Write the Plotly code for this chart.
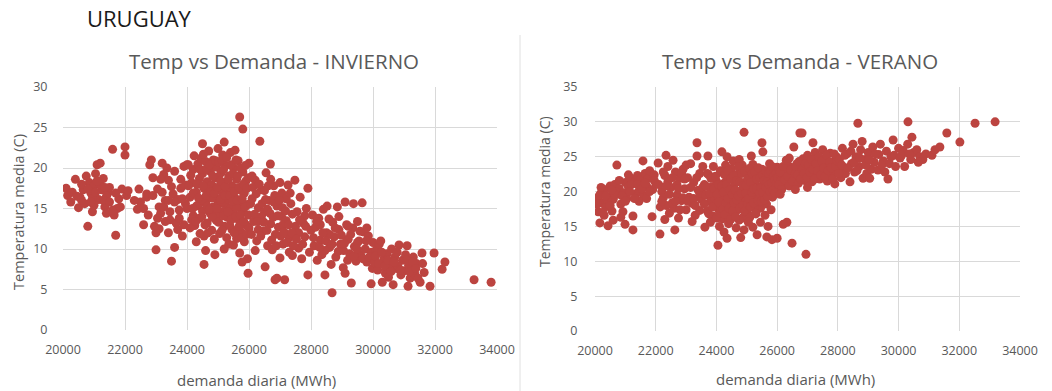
import plotly.graph_objects as go

# ---------------- DATA ----------------
invierno = [
    # 20000-22200
    (20100,17.5),(20150,16.6),(20250,15.8),(20400,18.6),(20500,15.1),(20550,16.4),(20650,17.3),(20700,15.6),(20800,12.8),(20850,18.2),
    (20900,16.9),(20950,14.6),(21000,17.8),(21050,19.3),(21100,20.4),(21150,16.1),(21200,20.6),(21250,17.3),(21300,18.7),(21350,15.2),
    (21400,14.4),(21450,16.9),(21500,17.6),(21600,22.3),(21650,14.2),(21700,11.7),(21750,15.0),(21800,16.2),(21900,17.4),(22000,22.6),
    (22000,21.6),(22050,16.6),(22100,17.2),(20600,16.0),(20750,19.0),(21000,15.4),(21200,18.0),(21400,16.5),(21600,14.8),(20950,16.2),
    (20300,17.0),(20450,16.5),(20600,18.0),(20800,17.4),(20900,15.8),(21050,17.0),(21100,18.4),(21300,16.0),(21350,17.6),(21500,15.8),
    (21700,16.9),(21850,15.2),
    # 22200-24000
    (22400,14.9),(22500,15.8),(22600,13.0),(22700,16.4),(22800,20.4),(22850,21.0),(22900,18.8),(23000,12.0),(23000,9.9),(23050,17.4),
    (23100,12.5),(23150,14.4),(23200,20.6),(23250,19.2),(23300,16.0),(23350,20.0),(23400,18.5),(23400,12.0),(23450,13.6),(23500,8.5),
    (23550,16.8),(23600,10.2),(23600,19.6),(23650,13.2),(23700,12.4),(23700,16.1),(23750,14.8),(23800,17.5),(23850,11.6),(23900,20.2),
    (23900,13.0),(23950,15.6),(24000,15.0),(22700,16.8),(23100,15.2),(23300,13.4),(23500,17.7),(23800,18.6),(24000,20.4),(23200,17.0),
    (22300,16.0),(22450,17.4),(22600,15.0),(22750,14.2),(22900,16.6),(23050,13.8),(23250,15.2),(23450,14.6),(23600,15.8),(23750,13.8),
    (23850,16.2),(23950,17.9),(23150,18.6),(23400,16.0),(22950,12.8),
    # 24000-26000
    (24100,16.4),(24150,18.2),(24200,14.1),(24200,19.8),(24250,12.9),(24300,17.0),(24300,15.3),(24350,20.5),(24400,13.8),(24400,18.7),
    (24450,16.1),(24450,21.2),(24500,14.7),(24500,19.3),(24550,11.6),(24550,17.5),(24600,15.8),(24600,20.8),(24650,13.2),(24650,18.3),
    (24700,16.7),(24700,22.1),(24750,14.4),(24750,19.6),(24800,12.3),(24800,17.9),(24850,15.2),(24850,21.0),(24900,16.4),(24900,18.8),
    (24950,13.5),(24950,20.1),(25000,15.9),(25000,22.4),(25050,11.9),(25050,17.3),(25100,14.6),(25100,19.4),(25150,16.8),(25150,21.6),
    (25200,12.8),(25200,18.1),(25250,15.4),(25250,20.3),(25300,13.9),(25300,17.0),(25350,10.6),(25350,19.0),(25400,15.0),(25400,21.9),
    (25450,12.4),(25450,17.8),(25500,14.2),(25500,20.0),(25550,16.3),(25550,22.2),(25600,11.3),(25600,18.6),(25650,13.7),(25650,20.9),
    (25700,15.6),(25700,9.5),(25750,17.2),(25750,12.1),(25800,19.5),(25800,14.8),(25850,10.9),(25850,16.9),(25900,13.0),(25900,18.4),
    (25950,8.8),(25950,15.5),(26000,20.6),(26000,12.6),(24300,10.9),(24600,9.8),(24900,9.3),(25200,10.0),(24400,15.6),(24700,17.3),
    (25000,18.9),(25300,16.2),(25600,15.1),(24200,16.9),(24500,16.0),(24800,16.3),(25100,15.7),(25400,17.1),(24650,15.3),(24950,14.1),
    (24500,23.0),(25200,23.2),(25700,26.3),(25800,24.8),(24550,8.1),(25970,7.0),(25780,8.4),(24040,20.4),(25500,10.5),(24150,13.6),
    (24050,17.8),(24100,12.6),(24120,19.1),(24180,15.0),(24230,21.5),(24280,13.4),(24320,18.0),(24370,16.3),(24420,11.9),(24430,19.8),
    (24480,14.0),(24520,17.8),(24530,21.7),(24580,13.0),(24620,16.6),(24630,19.9),(24680,12.0),(24720,14.9),(24730,20.4),(24780,17.0),
    (24820,13.9),(24830,19.0),(24880,11.2),(24880,16.9),(24920,20.9),(24970,15.0),(24980,17.6),(25020,13.3),(25030,20.7),(25080,16.1),
    (25080,18.4),(25130,12.3),(25130,21.0),(25180,14.1),(25180,19.8),(25230,16.6),(25230,17.7),(25280,11.4),(25280,21.3),(25320,14.6),
    (25330,18.6),(25380,12.9),(25380,16.6),(25420,20.4),(25430,13.6),(25480,15.9),(25480,19.3),(25520,12.0),(25530,17.1),(25580,14.0),
    (25580,21.0),(25620,16.0),(25630,19.0),(25680,12.8),(25680,17.6),(25720,14.2),(25730,20.0),(25780,11.4),(25780,16.2),(25820,18.0),
    (25830,13.4),(25880,15.2),(25880,20.3),(25920,11.8),(25930,17.5),(25980,14.2),(25980,18.8),
    # 26000-28000
    (26100,16.2),(26150,13.4),(26200,18.5),(26250,11.0),(26300,15.1),(26350,23.3),(26400,17.3),(26450,12.2),(26500,14.6),(26520,7.8),
    (26550,19.4),(26600,10.4),(26650,16.0),(26690,20.5),(26700,13.1),(26750,9.9),(26800,17.8),(26840,6.2),(26850,11.8),(26900,15.3),
    (26900,6.4),(26950,12.7),(27000,18.2),(27050,14.0),(27060,16.9),(27100,10.6),(27150,6.2),(27200,13.5),(27260,17.9),(27300,11.4),
    (27350,15.6),(27400,9.2),(27480,18.5),(27500,12.8),(27550,14.6),(27600,10.1),(27650,16.4),(27700,8.8),(27750,13.2),(27800,11.5),
    (27850,15.0),(27900,17.5),(27900,6.8),(27950,9.6),(28000,12.3),(26300,12.4),(26600,14.9),(26800,15.8),(27100,13.0),(27400,14.3),
    (26200,9.8),(26500,17.2),(26700,18.6),(27000,8.9),(27600,12.0),(26400,14.0),(27200,16.2),(27800,14.1),(26100,19.0),(27300,9.6),
    (26050,15.6),(26080,11.8),(26120,17.6),(26180,14.3),(26230,16.8),(26280,13.4),(26330,18.0),(26380,11.6),(26420,15.6),(26480,13.3),
    (26530,16.1),(26580,12.3),(26620,17.8),(26680,14.4),(26730,11.1),(26780,13.9),(26830,16.6),(26880,10.4),(26930,14.1),(26980,16.0),
    (27030,11.6),(27080,15.1),(27130,12.1),(27180,14.7),(27230,10.8),(27280,13.0),(27330,16.9),(27380,12.0),(27430,10.4),(27530,11.2),
    (27630,13.6),(27730,10.6),(27830,12.8),
    # 28000-30000
    (28050,14.2),(28100,10.4),(28150,12.7),(28200,8.6),(28250,13.8),(28300,11.1),(28350,9.3),(28450,6.8),(28400,14.9),(28500,12.0),
    (28520,15.3),(28600,10.2),(28650,8.1),(28680,4.6),(28700,13.3),(28750,11.5),(28800,9.0),(28850,15.2),(28900,12.4),(28950,10.6),
    (29040,7.7),(29100,7.0),(29100,15.8),(29150,13.0),(29200,11.2),(29250,9.4),(29300,5.8),(29350,12.6),(29370,15.6),(29400,10.3),
    (29450,8.5),(29500,13.4),(29550,11.0),(29600,9.3),(29650,15.7),(29700,12.1),(29750,10.0),(29800,8.4),(29850,11.6),(29940,5.7),
    (29950,9.6),(30000,10.8),(28300,13.0),(28600,11.8),(28900,14.0),(29200,12.8),(29500,10.8),(29800,12.6),(28450,9.8),(29050,9.8),
    (28080,11.4),(28180,13.4),(28280,10.2),(28380,12.0),(28480,11.0),(28580,13.7),(28680,10.6),(28780,12.6),(28880,9.7),(28980,11.7),
    (29080,10.7),(29180,8.6),(29280,11.8),(29380,9.1),(29480,10.0),(29580,12.2),(29680,8.8),(29780,11.0),(29880,9.0),(29980,7.6),
    # 30000-34000
    (30050,8.3),(30100,9.9),(30150,7.4),(30200,10.6),(30300,5.9),(30350,8.8),(30400,7.0),(30450,9.4),(30500,6.5),(30550,8.0),
    (30650,5.6),(30700,9.0),(30750,7.6),(30840,10.5),(30900,6.8),(30950,8.6),(31000,7.3),(31050,9.3),(31130,5.4),(31150,8.0),
    (31200,6.4),(31250,7.7),(31300,9.0),(31350,6.9),(31400,8.2),(31520,5.9),(31580,9.5),(31650,7.1),(31840,5.4),(31970,9.5),
    (32230,7.5),(32320,8.4),(33260,6.2),(33810,5.9),(30250,11.0),(30600,10.0),(31100,10.4),(30800,7.9),
    (30080,9.1),(30180,8.2),(30280,9.6),(30380,7.9),(30480,8.6),(30580,7.2),(30680,8.4),(30780,9.6),(30880,7.4),(31080,8.6),
    (31180,7.2),(31280,8.4),(31380,7.6),(31450,6.4),(31600,8.2),
]

verano = [
    # 20000-22000
    (20050,19.0),(20100,17.1),(20160,15.5),(20200,19.8),(20250,18.4),(20300,20.3),(20350,17.8),(20430,15.1),(20450,19.2),(20500,20.8),
    (20560,17.2),(20600,18.9),(20650,21.0),(20720,23.8),(20750,19.6),(20800,20.4),(20850,18.2),(20920,17.1),(20990,15.3),(21000,21.3),
    (21050,19.0),(21100,20.7),(21150,22.0),(21250,16.5),(21250,14.5),(21300,21.4),(21350,19.7),(21400,22.3),(21450,20.1),(21500,21.8),
    (21580,24.4),(21600,19.4),(21650,22.6),(21700,20.8),(21750,21.9),(21800,23.0),(21880,16.4),(21900,20.3),(21950,22.4),(22000,21.2),
    (20150,19.5),(20400,18.8),(20700,20.0),(20950,19.8),(21200,21.0),(21450,18.6),(21700,19.0),(20300,16.6),(20600,15.9),(20850,16.3),
    (20080,18.2),(20200,20.6),(20350,19.4),(20500,18.0),(20650,19.6),(20800,21.6),(20900,19.4),(21000,18.6),(21150,20.0),(21300,19.0),
    (21400,21.0),(21550,20.4),(21650,21.2),(21800,20.0),(21950,21.6),(20250,17.0),(20550,20.2),(21100,22.4),
    # 22000-23600
    (22080,24.1),(22140,13.9),(22150,17.8),(22200,20.0),(22250,19.1),(22300,22.3),(22340,25.2),(22350,18.0),(22400,21.4),(22450,16.9),
    (22500,20.6),(22570,24.5),(22600,17.6),(22630,14.5),(22650,22.8),(22700,19.5),(22750,16.2),(22800,21.9),(22850,18.7),(22900,23.2),
    (22950,20.4),(23000,17.4),(23050,22.0),(23100,19.2),(23150,24.0),(23200,18.3),(23250,21.3),(23300,16.6),(23360,27.0),(23360,25.1),
    (23400,20.2),(23450,22.6),(23500,18.9),(23550,23.6),(23620,14.9),(23600,21.0),(22400,23.6),(22700,21.0),(23000,23.8),(23200,15.7),
    (22300,16.0),(22900,19.1),(23450,17.3),(22550,18.4),
    (22100,21.0),(22200,18.6),(22350,20.8),(22450,19.6),(22550,22.0),(22650,18.6),(22750,20.4),(22850,22.6),(22950,21.8),(23050,18.6),
    (23150,20.6),(23250,19.0),(23350,22.0),(23450,19.8),(23550,20.6),(22250,22.8),(22800,17.4),(23300,18.0),
    # 23600-26000
    (23650,19.5),(23700,17.2),(23720,25.1),(23750,22.4),(23800,18.6),(23850,20.7),(23900,16.5),(23900,23.6),(23950,19.0),(24000,21.5),
    (24050,12.3),(24050,17.6),(24100,20.0),(24150,22.8),(24180,25.7),(24200,16.1),(24200,18.8),(24250,21.2),(24300,19.6),(24350,13.3),
    (24350,25.0),(24350,17.0),(24400,22.0),(24400,15.4),(24450,20.4),(24500,18.2),(24500,23.3),(24550,16.6),(24600,21.1),(24600,19.0),
    (24650,14.8),(24700,22.5),(24700,17.4),(24750,20.0),(24800,18.7),(24850,23.8),(24850,16.2),(24910,28.5),(24910,14.5),(24950,21.3),
    (25000,19.4),(25000,17.0),(25050,22.7),(25100,20.5),(25150,18.0),(25200,14.9),(25200,23.9),(25250,21.6),(25300,19.3),(25340,13.8),
    (25350,22.4),(25400,20.7),(25450,17.6),(25500,27.0),(25500,23.2),(25530,25.7),(25550,21.0),(25600,16.6),(25600,19.6),(25660,13.5),
    (25650,22.5),(25700,20.6),(25750,24.0),(25800,21.8),(25830,13.1),(25850,19.2),(25900,22.9),(25950,20.4),(26000,13.3),(26000,23.5),
    (24000,18.3),(24100,15.0),(24300,23.8),(24450,18.0),(24550,24.4),(24650,19.8),(24750,15.9),(24950,18.6),(25100,16.3),(25250,17.8),
    (25400,18.5),(25650,18.2),(25800,17.4),(23800,15.6),(24250,14.2),(24750,24.6),(25450,15.6),(24150,19.4),(24550,20.3),(24900,20.0),
    (25050,15.6),(25300,16.8),(25700,15.0),(25150,25.1),(24400,16.3),(24800,13.4),
    (23600,18.2),(23650,20.8),(23700,22.6),(23750,16.8),(23780,19.8),(23820,21.9),(23870,17.8),(23920,20.4),(23970,22.2),(24000,16.2),
    (24020,19.6),(24070,21.0),(24080,18.5),(24120,16.9),(24130,23.0),(24170,20.8),(24220,17.5),(24230,19.9),(24270,22.4),(24280,16.7),
    (24320,18.4),(24330,21.0),(24380,19.0),(24380,23.0),(24420,17.6),(24430,20.2),(24470,16.0),(24480,21.8),(24520,19.6),(24530,17.2),
    (24570,22.3),(24580,18.4),(24620,20.2),(24630,16.4),(24670,21.6),(24680,18.8),(24720,19.4),(24730,23.6),(24770,17.6),(24780,21.4),
    (24820,19.8),(24830,22.6),(24870,18.0),(24880,20.8),(24920,17.2),(24930,22.9),(24970,19.8),(24980,20.9),(25020,18.2),(25030,21.8),
    (25070,19.0),(25080,23.3),(25120,17.8),(25130,21.3),(25170,19.9),(25180,22.6),(25220,18.4),(25230,20.4),(25270,22.8),(25280,16.9),
    (25320,20.4),(25330,21.8),(25370,18.7),(25380,23.4),(25420,19.8),(25430,22.0),(25470,20.6),(25480,18.6),(25520,22.4),(25530,19.9),
    (25570,21.6),(25580,18.8),(25620,23.0),(25630,20.6),(25670,21.4),(25680,19.3),(25720,22.6),(25730,21.0),(25770,20.0),(25780,22.9),
    (25820,21.2),(25830,23.6),(25870,20.2),(25880,22.2),(25920,21.6),(25930,19.8),(25970,22.6),(25980,21.2),(26020,22.0),(26070,23.2),
    (26120,21.6),(26170,22.6),(26220,20.9),(26270,22.8),(26320,21.6),(26370,23.7),(26420,22.0),(26470,21.0),(26520,23.4),(26570,21.8),
    # 26000-28000
    (26050,21.0),(26100,22.8),(26150,20.3),(26200,23.6),(26250,21.7),(26320,15.6),(26300,24.5),(26350,22.2),(26400,20.8),(26450,23.1),
    (26490,12.6),(26500,21.5),(26550,26.4),(26600,22.6),(26650,24.0),(26700,21.2),(26750,28.4),(26750,23.3),(26800,22.0),(26820,28.4),
    (26850,24.7),(26900,21.6),(26950,11.0),(26950,23.4),(27000,25.2),(27050,22.3),(27100,24.1),(27180,27.0),(27150,21.4),(27200,23.0),
    (27250,25.6),(27300,22.5),(27350,24.4),(27400,21.8),(27450,23.6),(27500,26.0),(27550,22.9),(27600,24.8),(27650,21.5),(27700,23.8),
    (27750,25.5),(27800,22.4),(27850,24.2),(27900,21.1),(27950,25.0),(28000,23.0),(26200,15.3),(26100,19.6),(26400,24.8),(27000,20.6),
    (26600,20.3),
    (26620,23.6),(26670,22.4),(26720,24.3),(26780,21.8),(26830,23.2),(26880,22.6),(26930,24.0),(26980,22.0),(27030,23.8),(27080,22.8),
    (27130,24.6),(27180,23.2),(27230,21.8),(27280,24.0),(27330,23.0),(27380,25.0),(27430,22.4),(27480,24.4),(27530,23.4),(27580,22.2),
    (27630,25.2),(27680,23.0),(27730,24.2),(27780,23.4),(27830,21.8),(27880,25.4),(27930,23.6),(27980,24.4),
    # 28000-33500
    (28050,24.6),(28100,22.0),(28150,26.2),(28200,23.4),(28300,25.4),(28400,21.4),(28450,24.0),(28500,26.8),(28550,22.8),(28600,25.0),
    (28660,29.8),(28700,23.6),(28750,26.0),(28830,21.9),(28900,24.6),(28950,22.6),(29000,25.6),(29100,23.2),(29150,26.4),(29200,24.2),
    (29320,23.1),(29350,25.3),(29400,26.8),(29500,24.4),(29550,22.8),(29600,25.8),(29700,24.0),(29820,27.4),(29850,25.2),(29900,23.6),
    (30000,26.2),(30050,24.8),(30150,25.9),(30310,30.0),(30300,26.8),(30440,27.8),(30400,24.6),(30500,25.6),(30600,26.0),(30700,25.0),
    (30800,24.6),(31100,25.2),(31200,26.0),(31360,26.4),(31590,28.4),(32020,27.1),(32520,29.8),(33180,30.0),(28250,22.6),(29050,21.9),
    (29650,21.8),(30200,23.6),(28800,27.2),
    (28030,22.6),(28130,23.8),(28230,25.2),(28330,23.4),(28430,25.8),(28530,24.2),(28630,23.0),(28730,24.8),(28930,23.8),(29030,24.6),
    (29230,25.4),(29450,23.8),(29750,25.0),(30100,25.2),(30350,25.4),(30650,24.2),(30900,25.4),
]

x_ticks = [20000, 22000, 24000, 26000, 28000, 30000, 32000, 34000]
y_ticks_inv = [0, 5, 10, 15, 20, 25, 30]
y_ticks_ver = [0, 5, 10, 15, 20, 25, 30, 35]

titulo = "URUGUAY"
titulo_inv = "Temp vs Demanda - INVIERNO"
titulo_ver = "Temp vs Demanda - VERANO"
x_label = "demanda diaria (MWh)"
y_label = "Temperatura media (C)"

# ---------------- FIGURE ----------------
W, H = 1052, 391
FONT = "Open Sans"
GRAY = "#595959"
GRID = "#d9d9d9"
RED = "#BC4440"

def px_x(p):
    return p / W

def px_y(p):
    return 1 - p / H

fig = go.Figure()
fig.add_trace(go.Scatter(
    x=[p[0] for p in invierno], y=[p[1] for p in invierno],
    mode="markers", xaxis="x", yaxis="y",
    marker=dict(size=9, color=RED, line=dict(width=0)), showlegend=False,
))
fig.add_trace(go.Scatter(
    x=[p[0] for p in verano], y=[p[1] for p in verano],
    mode="markers", xaxis="x2", yaxis="y2",
    marker=dict(size=9, color=RED, line=dict(width=0)), showlegend=False,
))

axis_common = dict(
    showgrid=True, gridcolor=GRID, gridwidth=1, zeroline=False, automargin=False,
    showline=False, ticks="outside", tickcolor="rgba(0,0,0,0)",
    tickfont=dict(family=FONT, size=12.5, color=GRAY), fixedrange=True,
)
x_text = [str(v) for v in x_ticks]

fig.update_layout(
    width=W, height=H, margin=dict(l=0, r=0, t=0, b=0, autoexpand=False),
    paper_bgcolor="white", plot_bgcolor="white",
    xaxis=dict(domain=[px_x(63), px_x(497)], range=[20000, 34000], tickvals=x_ticks,
               ticktext=x_text, ticklen=8, anchor="y", **axis_common),
    yaxis=dict(domain=[px_y(330), px_y(87)], range=[0, 30], tickvals=y_ticks_inv,
               ticktext=[str(v) for v in y_ticks_inv], ticklen=12, anchor="x", **axis_common),
    xaxis2=dict(domain=[px_x(595), px_x(1020)], range=[20000, 34000], tickvals=x_ticks,
                ticktext=x_text, ticklen=8, anchor="y2", **axis_common),
    yaxis2=dict(domain=[px_y(331), px_y(87)], range=[0, 35], tickvals=y_ticks_ver,
                ticktext=[str(v) for v in y_ticks_ver], ticklen=14, anchor="x2", **axis_common),
)

annots = [
    dict(text=titulo, x=px_x(85), y=px_y(18), xanchor="left", yanchor="middle",
         font=dict(family=FONT, size=22, color="#1a1a1a")),
    dict(text=titulo_inv, x=px_x(274), y=px_y(61), xanchor="center", yanchor="middle",
         font=dict(family=FONT, size=20.5, color=GRAY)),
    dict(text=titulo_ver, x=px_x(800), y=px_y(61), xanchor="center", yanchor="middle",
         font=dict(family=FONT, size=20.5, color=GRAY)),
    dict(text=x_label, x=px_x(256), y=px_y(380), xanchor="center", yanchor="middle",
         font=dict(family=FONT, size=15, color=GRAY)),
    dict(text=x_label, x=px_x(795), y=px_y(379), xanchor="center", yanchor="middle",
         font=dict(family=FONT, size=15, color=GRAY)),
    dict(text=y_label, x=px_x(18), y=px_y(212), xanchor="center", yanchor="middle",
         textangle=-90, font=dict(family=FONT, size=14.5, color=GRAY)),
    dict(text=y_label, x=px_x(544), y=px_y(192), xanchor="center", yanchor="middle",
         textangle=-90, font=dict(family=FONT, size=14, color=GRAY)),
]
for a in annots:
    a.update(xref="paper", yref="paper", showarrow=False)
fig.update_layout(annotations=annots)

fig.add_shape(type="line", xref="paper", yref="paper",
              x0=px_x(520), x1=px_x(520), y0=0, y1=px_y(35),
              line=dict(color="#e0e0e0", width=1))

fig.write_html("out.html")
